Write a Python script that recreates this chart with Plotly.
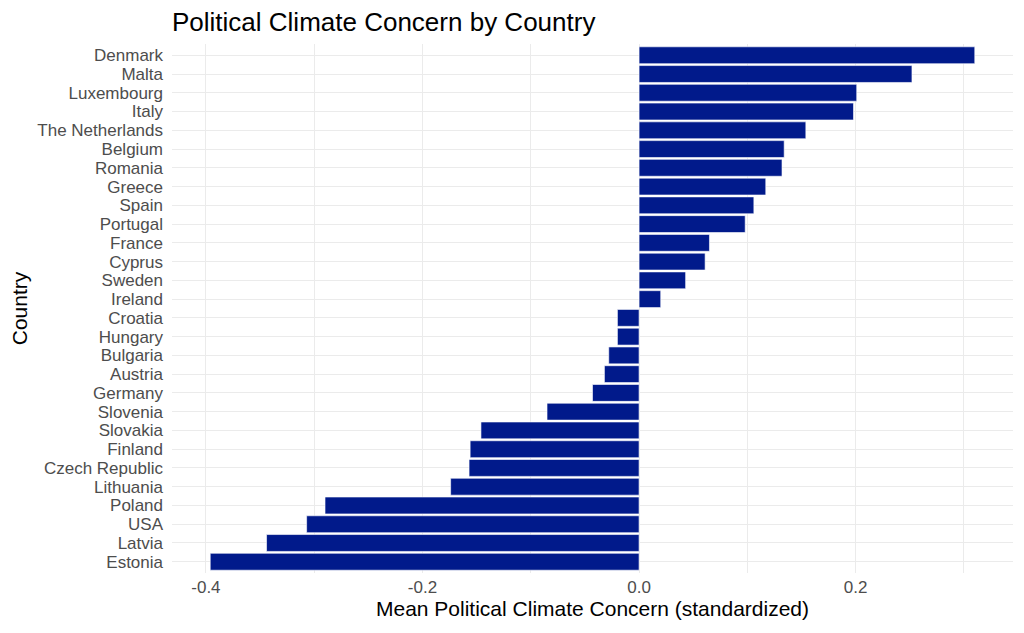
import plotly.graph_objects as go

countries = ["Denmark", "Malta", "Luxembourg", "Italy", "The Netherlands", "Belgium",
             "Romania", "Greece", "Spain", "Portugal", "France", "Cyprus", "Sweden",
             "Ireland", "Croatia", "Hungary", "Bulgaria", "Austria", "Germany",
             "Slovenia", "Slovakia", "Finland", "Czech Republic", "Lithuania",
             "Poland", "USA", "Latvia", "Estonia"]
values = [0.310, 0.252, 0.201, 0.198, 0.154, 0.134, 0.132, 0.117, 0.106, 0.098,
          0.065, 0.061, 0.043, 0.020, -0.020, -0.020, -0.028, -0.032, -0.043,
          -0.085, -0.146, -0.156, -0.157, -0.174, -0.290, -0.307, -0.344, -0.396]
x_ticks = [-0.4, -0.2, 0.0, 0.2]
x_tick_labels = ["-0.4", "-0.2", "0.0", "0.2"]

order = list(reversed(countries))

fig = go.Figure(go.Bar(
    x=values, y=countries, orientation="h",
    marker=dict(color="#011a8b", line=dict(color="white", width=0.6)),
    width=0.9,
))

# page body has an 8px offset; margins compensate so the panel lands where the reference has it
span = max(values) - min(values)
fig.update_layout(
    width=1024, height=633,
    paper_bgcolor="white", plot_bgcolor="white",
    margin=dict(l=164, r=19, t=36, b=68, autoexpand=False),
    font=dict(family="Liberation Sans, Arial, sans-serif", color="#4d4d4d"),
    title=dict(text="Political Climate Concern by Country", x=164/1024, xanchor="left",
               y=1 - 14/633, yanchor="middle", font=dict(size=26, color="black")),
    showlegend=False,
    bargap=0.1,
)
fig.update_xaxes(
    range=[min(values) - 0.05 * span, max(values) + 0.05 * span],
    tickvals=x_ticks, ticktext=x_tick_labels,
    tickfont=dict(size=17, color="#4d4d4d"),
    showgrid=True, gridcolor="#ebebeb", gridwidth=1.1,
    minor=dict(dtick=0.1, tick0=0.1, showgrid=True, gridcolor="#ebebeb", gridwidth=0.5),
    zeroline=False, showline=False, ticks="",
    automargin=False,
    ticklabelstandoff=2,
    title=dict(text="Mean Political Climate Concern (standardized)",
               font=dict(size=21, color="black"), standoff=4),
)
fig.update_yaxes(
    categoryorder="array", categoryarray=order,
    tickmode="array", tickvals=order, ticktext=order,
    range=[-0.6, len(order) - 0.4],
    tickfont=dict(size=17, color="#4d4d4d"),
    showgrid=True, gridcolor="#ebebeb", gridwidth=1.1,
    zeroline=False, showline=False, ticks="",
    automargin=False,
    ticklabelstandoff=8,
    title=dict(text="Country", font=dict(size=21, color="black"), standoff=8),
)

fig.write_html("out.html")
